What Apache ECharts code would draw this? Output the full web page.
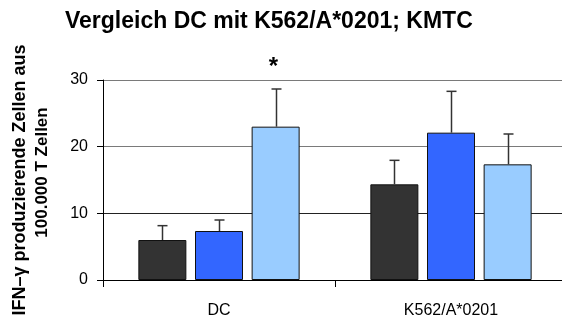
<!DOCTYPE html>
<html>
<head>
<meta charset="utf-8">
<script src="https://cdn.jsdelivr.net/npm/echarts@6/dist/echarts.min.js"></script>
<style>
  html, body { margin: 0; padding: 0; background: #fff; }
  #chart { width: 562px; height: 324px; }
</style>
</head>
<body>
<div id="chart"></div>
<script>
// Antigen-presenting cells compared
const categories = ['DC', 'K562/A*0201'];

// Mean IFN-γ producing cells per 100,000 T cells, per group
const seriesNames = ['A', 'B', 'C'];
const meanA = [6.0, 14.35];
const meanB = [7.35, 22.1];
const meanC = [23.0, 17.35];

// Upper end of the error bar (mean + SD)
const upperA = [8.15, 17.95];
const upperB = [9.0, 28.3];
const upperC = [28.65, 21.9];

// Significance markers drawn above the error bars
const signifC = ['*', ''];

const yTicks = [0, 10, 20, 30];
const yTitleLines = ['IFN–γ produzierende Zellen aus', '100.000 T Zellen'];

const colors = ['#333333', '#3366ff', '#99ccff'];
const means = [meanA, meanB, meanC];
const uppers = [upperA, upperB, upperC];
const signif = [['', ''], ['', ''], signifC];

const BAR_WIDTH = 48;
const BAR_GAP = '18%';
const FONT = '"Liberation Sans", Arial, sans-serif';

const chart = echarts.init(document.getElementById('chart'), null, { renderer: 'canvas' });

const barSeries = seriesNames.map((name, i) => ({
  name: name,
  type: 'bar',
  data: means[i],
  barWidth: BAR_WIDTH,
  barGap: BAR_GAP,
  itemStyle: { color: colors[i], borderColor: '#111', borderWidth: 1 },
  z: 2
}));

const errorSeries = seriesNames.map((name, i) => ({
  type: 'custom',
  name: name + ' SD',
  data: categories.map((c, k) => [k, means[i][k], uppers[i][k], signif[i][k]]),
  z: 3,
  silent: true,
  renderItem: function (params, api) {
    const k = api.value(0);
    const base = api.coord([k, api.value(1)]);
    const top = api.coord([k, api.value(2)]);
    const layout = api.barLayout({ count: 3, barWidth: BAR_WIDTH, barGap: BAR_GAP });
    const x = Math.round(base[0] + layout[i].offsetCenter) + 0.5;
    const cap = 5;
    const style = { stroke: '#333', lineWidth: 1.5 };
    const children = [
      { type: 'line', shape: { x1: x, y1: base[1], x2: x, y2: top[1] }, style: style },
      { type: 'line', shape: { x1: x - cap, y1: top[1], x2: x + cap, y2: top[1] }, style: style }
    ];
    const mark = signif[i][k];
    if (mark) {
      children.push({
        type: 'text',
        style: {
          text: mark, x: x - 3, y: top[1] - 34,
          align: 'center', verticalAlign: 'top',
          font: 'bold 24px ' + FONT, fill: '#000'
        }
      });
    }
    return { type: 'group', children: children };
  }
}));

chart.setOption({
  animation: false,
  backgroundColor: '#fff',
  title: {
    text: 'Vergleich DC mit K562/A*0201; KMTC',
    left: 65,
    top: 10,
    padding: 0,
    textStyle: { fontFamily: FONT, fontSize: 23, fontWeight: 'bold', color: '#000' }
  },
  grid: {
    left: 103, top: 80, width: 464, height: 200,
    containLabel: false,
    outerBoundsMode: 'none'
  },
  xAxis: {
    type: 'category',
    data: categories,
    axisLine: { lineStyle: { color: '#000', width: 1 } },
    axisTick: { show: true, length: 7, lineStyle: { color: '#000' } },
    axisLabel: { margin: 23, fontFamily: FONT, fontSize: 16, color: '#000' }
  },
  yAxis: {
    type: 'value',
    min: yTicks[0],
    max: yTicks[yTicks.length - 1],
    interval: 10,
    name: '{a|' + yTitleLines[0] + '}\n{b|' + yTitleLines[1] + '}',
    nameLocation: 'middle',
    nameGap: 50,
    nameTextStyle: {
      fontFamily: FONT,
      fontWeight: 'bold',
      color: '#000',
      align: 'center',
      rich: {
        a: { fontFamily: FONT, fontSize: 18, fontWeight: 'bold', color: '#000', lineHeight: 22 },
        b: { fontFamily: FONT, fontSize: 17, fontWeight: 'bold', color: '#000', lineHeight: 22, padding: [0, 0, 0, 15] }
      }
    },
    axisLine: { show: true, lineStyle: { color: '#000', width: 1 } },
    axisTick: { show: true, length: 6, lineStyle: { color: '#000' } },
    axisLabel: { margin: 15, fontFamily: FONT, fontSize: 16, color: '#000' },
    splitLine: { show: true, lineStyle: { color: ['#000', '#222', '#7a7a7a', '#7a7a7a'], width: 1 } }
  },
  series: barSeries.concat(errorSeries)
});
</script>
</body>
</html>
